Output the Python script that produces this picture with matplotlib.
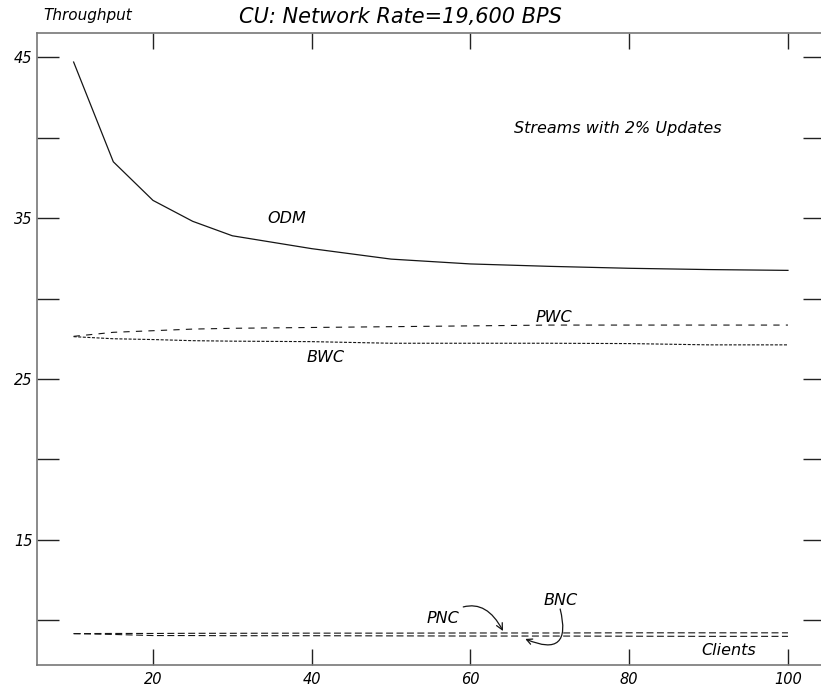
import matplotlib
matplotlib.use('Agg')
import matplotlib.pyplot as plt
from matplotlib.ticker import FixedLocator, FixedFormatter

# values
clients = [10, 15, 20, 25, 30, 40, 50, 60, 70, 80, 90, 100]
odm = [44.7, 38.5, 36.1, 34.8, 33.9, 33.1, 32.45, 32.15, 32.0, 31.88, 31.8, 31.75]
pwc = [27.65, 27.9, 28.0, 28.1, 28.15, 28.2, 28.25, 28.3, 28.35, 28.35, 28.35, 28.35]
bwc = [27.63, 27.5, 27.45, 27.38, 27.35, 27.32, 27.22, 27.22, 27.22, 27.2, 27.12, 27.12]
pnc = [9.17, 9.18, 9.18, 9.19, 9.19, 9.2, 9.2, 9.21, 9.21, 9.22, 9.22, 9.22]
bnc = [9.17, 9.12, 9.05, 9.05, 9.04, 9.04, 9.03, 9.02, 9.02, 9.01, 9.0, 9.0]

x_ticks = [20, 40, 60, 80, 100]
y_ticks = [10, 15, 20, 25, 30, 35, 40, 45]
y_tick_labels = ['', '15', '', '25', '', '35', '', '45']

plt.rcParams['font.family'] = ['DejaVu Sans']
plt.rcParams['font.style'] = 'italic'
plt.rcParams['lines.scale_dashes'] = False

fig = plt.figure(figsize=(8.21, 6.87), dpi=100)
ax = fig.add_axes([0.0454, 0.0325, 0.9594, 0.9191])

line_col = '#151515'
ax.plot(clients, odm, color=line_col, lw=0.9)
ax.plot(clients, pwc, color=line_col, lw=0.8, dashes=(4.5, 4.5))
ax.plot(clients, bwc, color=line_col, lw=0.8, dashes=(2.2, 1.1))
ax.plot(clients, pnc, color=line_col, lw=0.8, dashes=(5, 2.5))
ax.plot(clients, bnc, color=line_col, lw=0.8, dashes=(5, 2.5))

ax.set_xlim(5.42, 104.66)
ax.set_ylim(7.24, 46.49)

ax.xaxis.set_major_locator(FixedLocator(x_ticks))
ax.yaxis.set_major_locator(FixedLocator(y_ticks))
ax.yaxis.set_major_formatter(FixedFormatter(y_tick_labels))

ax.tick_params(axis='x', direction='in', length=11.5, width=1, top=True,
               bottom=True, labelsize=10.5, pad=5, color='#222222')
ax.tick_params(axis='y', direction='in', length=15.8, width=1, left=True,
               right=True, labelsize=10.5, pad=3.5, color='#222222')
for s in ax.spines.values():
    s.set_color('#777777')
    s.set_linewidth(1.2)

lbl = dict(fontsize=11.5, ha='center', va='center')
ax.text(36.8, 34.95, 'ODM', **lbl)
ax.text(70.5, 28.79, 'PWC', **lbl)
ax.text(41.7, 26.34, 'BWC', **lbl)
ax.text(78.6, 40.6, 'Streams with 2% Updates', **lbl)
ax.text(92.5, 8.15, 'Clients', **lbl)

ax.annotate('PNC', xy=(64.1, 9.33), xytext=(56.5, 10.14), fontsize=11.5,
            ha='center', va='center',
            arrowprops=dict(arrowstyle='->', color=line_col, lw=0.9,
                            shrinkA=2, shrinkB=0,
                            connectionstyle='arc3,rad=-0.6'))
ax.text(71.4, 11.26, 'BNC', **lbl)
ax.annotate('', xy=(66.9, 8.84), xytext=(71.3, 10.7),
            arrowprops=dict(arrowstyle='->', color=line_col, lw=0.9,
                            shrinkA=0, shrinkB=0,
                            connectionstyle='arc3,rad=-1.0'))

fig.text(0.4878, 0.967, 'CU: Network Rate=19,600 BPS', fontsize=15,
         ha='center', va='baseline')
fig.text(0.0524, 0.9709, 'Throughput', fontsize=11, ha='left', va='baseline')

fig.savefig('out.png', dpi=100)
